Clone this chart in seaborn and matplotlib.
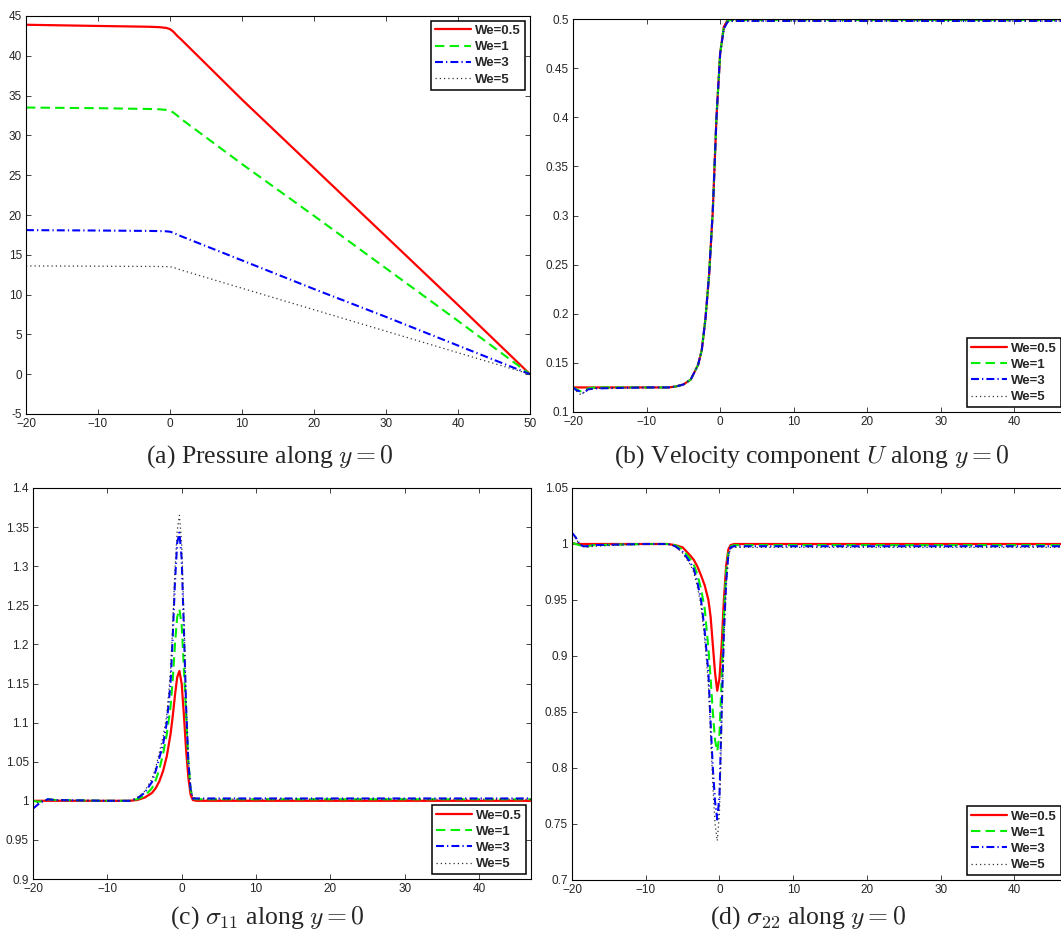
import numpy as np
import pandas as pd
import matplotlib
matplotlib.use("Agg")
import matplotlib.pyplot as plt
import seaborn as sns

# ---------------------------------------------------------------- data
series_labels = ["We=0.5", "We=1", "We=3", "We=5"]

# (a) pressure along y = 0
p_x = [-20, -10, -3, -1.5, -0.5, 0, 0.5, 1, 1.5, 10, 20, 30, 40, 50]
p_we05 = [43.9, 43.75, 43.65, 43.6, 43.5, 43.35, 43.0, 42.5, 42.1, 34.5, 25.9, 17.3, 8.7, 0.0]
p_we1 = [33.5, 33.42, 33.32, 33.28, 33.2, 33.1, 32.85, 32.5, 32.1, 26.4, 19.9, 13.3, 6.7, 0.0]
p_we3 = [18.1, 18.05, 18.0, 17.98, 17.95, 17.9, 17.75, 17.55, 17.35, 14.3, 10.7, 7.2, 3.6, 0.0]
p_we5 = [13.6, 13.57, 13.54, 13.53, 13.51, 13.5, 13.4, 13.25, 13.1, 10.8, 8.1, 5.4, 2.7, 0.0]

# (b) velocity component U along y = 0
u_x = [-20, -19.5, -19, -18.5, -18, -17, -10, -7, -6, -5, -4, -3, -2.5, -2,
       -1.5, -1, -0.5, 0, 0.5, 1, 1.5, 2, 10, 20, 30, 40, 47]
u_we05 = [.125, .125, .125, .125, .125, .125, .125, .125, .126, .128, .133, .148, .163,
          .195, .24, .305, .40, .465, .492, .499, .5, .5, .5, .5, .5, .5, .5]
u_we1 = [.125, .123, .121, .122, .124, .125, .125, .125, .126, .128, .133, .148, .163,
         .195, .24, .305, .40, .465, .492, .498, .499, .499, .499, .499, .499, .499, .499]
u_we3 = [.125, .122, .121, .119, .123, .124, .125, .125, .126, .128, .133, .148, .163,
         .195, .24, .305, .40, .465, .490, .497, .498, .498, .498, .498, .498, .498, .498]
u_we5 = [.124, .121, .118, .120, .123, .124, .125, .125, .126, .128, .133, .148, .163,
         .195, .24, .305, .40, .465, .490, .497, .498, .498, .498, .498, .498, .498, .498]

# (c) sigma_11 along y = 0
s11_x = [-20, -19.5, -19, -18.5, -18, -17, -10, -7, -6, -5, -4, -3.5, -3, -2.5, -2,
         -1.5, -1.2, -0.9, -0.6, -0.3, 0, 0.3, 0.6, 0.9, 1.2, 1.5, 2, 2.5, 10, 20, 30, 40, 47]
s11_we05 = [1.0, 1.0, 1.0, 1.0, 1.0, 1.0, 1.0, 1.0, 1.001, 1.004, 1.010, 1.016, 1.025, 1.038,
            1.057, 1.085, 1.108, 1.135, 1.158, 1.166, 1.15, 1.11, 1.065, 1.03, 1.008, 1.001,
            1.0, 1.0, 1.0, 1.0, 1.0, 1.0, 1.0]
s11_we1 = [1.0, 0.999, 0.999, 1.001, 1.002, 1.001, 1.0, 1.0, 1.002, 1.006, 1.016, 1.026, 1.04,
           1.06, 1.085, 1.12, 1.155, 1.2, 1.235, 1.245, 1.225, 1.17, 1.11, 1.05, 1.015, 1.003,
           1.002, 1.002, 1.002, 1.002, 1.002, 1.002, 1.002]
s11_we3 = [0.99, 0.994, 0.998, 1.0, 1.002, 1.001, 1.0, 1.0, 1.003, 1.01, 1.024, 1.038, 1.055,
           1.072, 1.1, 1.15, 1.21, 1.28, 1.33, 1.343, 1.31, 1.22, 1.12, 1.05, 1.015, 1.003,
           1.003, 1.003, 1.003, 1.003, 1.003, 1.003, 1.003]
s11_we5 = [0.995, 0.997, 0.999, 1.0, 1.002, 1.001, 1.0, 1.0, 1.004, 1.012, 1.028, 1.042, 1.062,
           1.082, 1.11, 1.165, 1.225, 1.295, 1.345, 1.365, 1.33, 1.235, 1.13, 1.055, 1.018,
           1.004, 1.003, 1.002, 1.002, 1.002, 1.002, 1.002, 1.002]

# (d) sigma_22 along y = 0
s22_x = [-20, -19.5, -19, -18.5, -18, -17, -10, -7, -6, -5, -4, -3.5, -3, -2.5, -2,
         -1.5, -1.2, -0.9, -0.6, -0.3, 0, 0.3, 0.6, 0.9, 1.2, 1.5, 2, 2.5, 10, 20, 30, 40, 47]
s22_we05 = [1.001, 1.0, 1.0, 1.0, 1.0, 1.0, 1.0, 1.0, 0.999, 0.997, 0.99, 0.986, 0.98, 0.972,
            0.963, 0.95, 0.935, 0.91, 0.885, 0.869, 0.88, 0.91, 0.95, 0.98, 0.995, 0.999,
            1.0, 1.0, 1.0, 1.0, 1.0, 1.0, 1.0]
s22_we1 = [1.001, 1.0, 0.999, 0.998, 0.998, 0.999, 1.0, 1.0, 0.999, 0.995, 0.987, 0.982, 0.973,
           0.96, 0.942, 0.907, 0.88, 0.85, 0.825, 0.815, 0.83, 0.88, 0.935, 0.975, 0.992, 0.998,
           0.999, 0.999, 0.999, 0.999, 0.999, 0.999, 0.999]
s22_we3 = [1.01, 1.006, 1.0, 0.998, 0.998, 0.999, 1.0, 1.0, 0.998, 0.993, 0.984, 0.978, 0.966,
           0.95, 0.922, 0.885, 0.84, 0.8, 0.77, 0.754, 0.775, 0.85, 0.92, 0.965, 0.99, 0.997,
           0.998, 0.998, 0.998, 0.998, 0.998, 0.998, 0.998]
s22_we5 = [1.009, 1.005, 1.0, 0.998, 0.997, 0.998, 1.0, 1.0, 0.998, 0.992, 0.982, 0.975, 0.962,
           0.945, 0.915, 0.875, 0.83, 0.785, 0.75, 0.735, 0.76, 0.84, 0.915, 0.962, 0.988,
           0.996, 0.997, 0.997, 0.997, 0.997, 0.997, 0.997, 0.997]

# ---------------------------------------------------------------- style
sns.set_style("ticks")
plt.rcParams.update({
    "font.family": ["Liberation Sans", "DejaVu Sans"],
    "mathtext.fontset": "cm",
    "axes.linewidth": 0.8,
    "axes.edgecolor": "black",
    "xtick.direction": "in",
    "ytick.direction": "in",
    "xtick.top": True,
    "ytick.right": True,
    "xtick.major.size": 3.5,
    "ytick.major.size": 3.5,
    "xtick.major.width": 0.6,
    "ytick.major.width": 0.6,
    "xtick.labelsize": 8.5,
    "ytick.labelsize": 8.5,
    "xtick.major.pad": 3,
    "ytick.major.pad": 3,
})

line_styles = [
    dict(color="#ff0000", lw=1.6, linestyle="-"),
    dict(color="#00ee00", lw=1.5, linestyle=(0, (4.5, 2.5))),
    dict(color="#0000ff", lw=1.5, linestyle=(0, (3.8, 1.5, 0.6, 1.5))),
    dict(color="#333333", lw=0.9, linestyle=(0, (1.0, 2.4))),
]

W, H = 1061, 933
fig = plt.figure(figsize=(W / 100, H / 100), dpi=100)


def add_axes_px(left, top, right, bottom):
    return fig.add_axes([left / W, 1 - bottom / H, (right - left) / W, (bottom - top) / H])


def draw_panel(ax, x, ys, xlim, ylim, yticks, yticklabels, legend_loc):
    for y, label, st in zip(ys, series_labels, line_styles):
        df = pd.DataFrame({"x": x, "y": y})
        sns.lineplot(data=df, x="x", y="y", ax=ax, label=label, **st)
    ax.set_xticks(np.arange(-20, 51, 10))
    ax.set_yticks(yticks)
    ax.set_yticklabels(yticklabels)
    ax.set_xlim(*xlim)
    ax.set_ylim(*ylim)
    ax.set_xlabel("")
    ax.set_ylabel("")
    for s in ax.spines.values():
        s.set_visible(True)
    leg = ax.legend(loc=legend_loc, borderaxespad=0.35, frameon=True, fancybox=False,
                    framealpha=1, edgecolor="black", handlelength=2.7,
                    handletextpad=0.35, labelspacing=0.3, borderpad=0.32,
                    prop={"weight": "bold", "size": 9.5})
    leg.get_frame().set_linewidth(1.1)


ax_a = add_axes_px(26, 16, 530, 414)
draw_panel(ax_a, p_x, [p_we05, p_we1, p_we3, p_we5], (-20, 50), (-5, 45),
           np.arange(-5, 46, 5), [str(v) for v in range(-5, 46, 5)], "upper right")

ax_b = add_axes_px(573, 19, 1066, 412)
b_ticks = [0.1, 0.15, 0.2, 0.25, 0.3, 0.35, 0.4, 0.45, 0.5]
draw_panel(ax_b, u_x, [u_we05, u_we1, u_we3, u_we5], (-20, 47), (0.1, 0.5),
           b_ticks, ["0.1", "0.15", "0.2", "0.25", "0.3", "0.35", "0.4", "0.45", "0.5"],
           "lower right")

ax_c = add_axes_px(33, 488, 531, 879)
c_ticks = [0.9, 0.95, 1.0, 1.05, 1.1, 1.15, 1.2, 1.25, 1.3, 1.35, 1.4]
draw_panel(ax_c, s11_x, [s11_we05, s11_we1, s11_we3, s11_we5], (-20, 47), (0.9, 1.4),
           c_ticks, ["0.9", "0.95", "1", "1.05", "1.1", "1.15", "1.2", "1.25", "1.3",
                     "1.35", "1.4"], "lower right")

ax_d = add_axes_px(572, 488, 1066, 880)
d_ticks = [0.7, 0.75, 0.8, 0.85, 0.9, 0.95, 1.0, 1.05]
draw_panel(ax_d, s22_x, [s22_we05, s22_we1, s22_we3, s22_we5], (-20, 47), (0.7, 1.05),
           d_ticks, ["0.7", "0.75", "0.8", "0.85", "0.9", "0.95", "1", "1.05"],
           "lower right")

# sub-figure captions
cap_kw = dict(ha="center", va="center", fontsize=18.5, family=["Liberation Serif", "DejaVu Serif"])
fig.text(270 / W, 1 - 457 / H, r"(a) Pressure along $y=0$", **cap_kw)
fig.text(812 / W, 1 - 457 / H, r"(b) Velocity component $U$ along $y=0$", **cap_kw)
fig.text(267 / W, 1 - 918 / H, r"(c) $\sigma_{11}$ along $y=0$", **cap_kw)
fig.text(808 / W, 1 - 918 / H, r"(d) $\sigma_{22}$ along $y=0$", **cap_kw)

fig.savefig("out.png", dpi=100)
